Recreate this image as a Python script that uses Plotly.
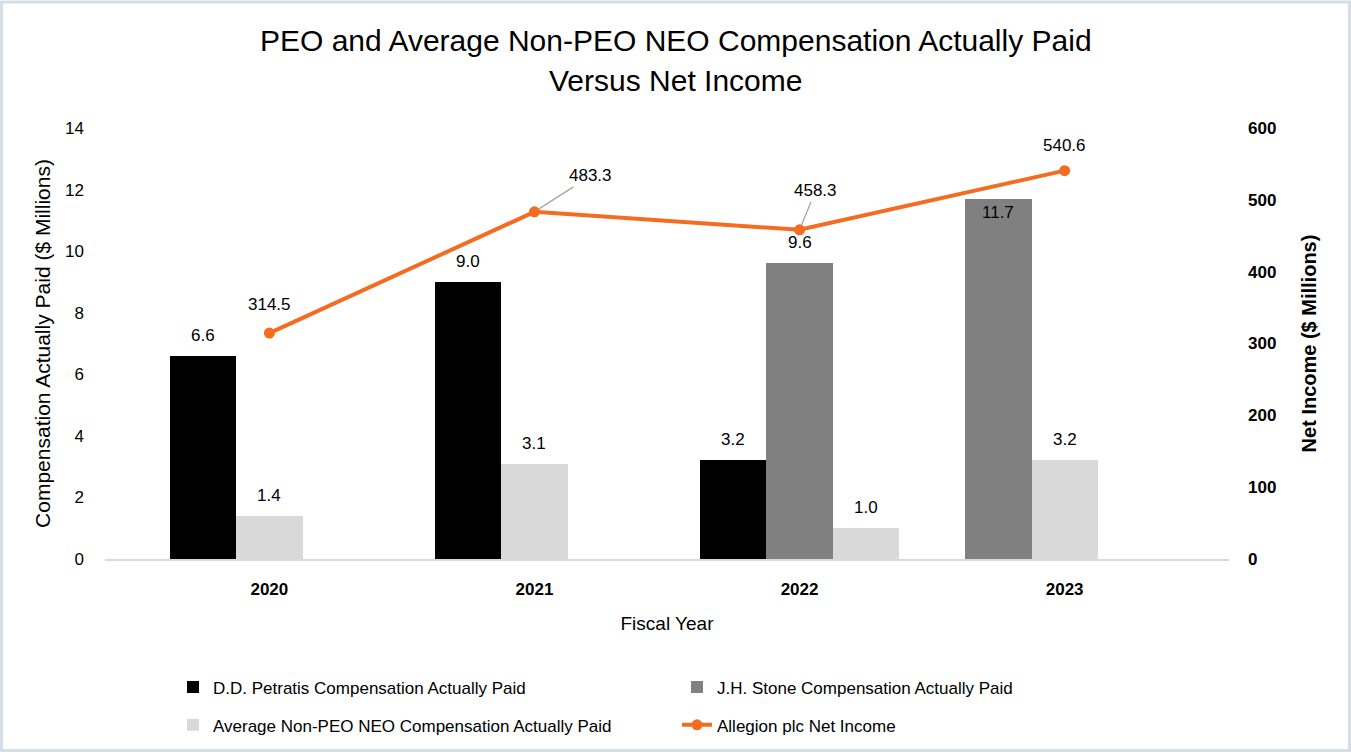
import plotly.graph_objects as go

years = ["2020", "2021", "2022", "2023"]
petratis = [6.6, 9.0, 3.2, None]
stone = [None, None, 9.6, 11.7]
avg_neo = [1.4, 3.1, 1.0, 3.2]
net_income = [314.5, 483.3, 458.3, 540.6]

title_lines = ["PEO and Average Non-PEO NEO Compensation Actually Paid", "Versus Net Income"]

series = [
    ("D.D. Petratis Compensation Actually Paid", petratis, "#000000", "legend"),
    ("J.H. Stone Compensation Actually Paid", stone, "#808080", "legend"),
    ("Average Non-PEO NEO Compensation Actually Paid", avg_neo, "#D9D9D9", "legend2"),
]

BAR_W = 0.25
FONT = "Liberation Sans, Arial, Helvetica, sans-serif"
# labels drawn inside the top of their bar (series index, year index)
inside_labels = {(1, 3)}

# slot of each present bar within its year: k-th present bar -> offset
offsets = {name: [None] * len(years) for name, *_ in series}
for j in range(len(years)):
    k = 0
    for name, vals, _, _ in series:
        if vals[j] is not None:
            offsets[name][j] = -0.375 + BAR_W * k
            k += 1

fig = go.Figure()
annotations = []
for si, (name, vals, color, lg) in enumerate(series):
    offs = [o if o is not None else 0 for o in offsets[name]]
    fig.add_trace(go.Bar(
        x=years, y=vals, name=name, marker=dict(color=color, line=dict(width=0)),
        width=[BAR_W] * len(years), offset=offs, legend=lg, yaxis="y",
    ))
    for j, v in enumerate(vals):
        if v is None:
            continue
        inside = (si, j) in inside_labels
        annotations.append(dict(
            x=j + offsets[name][j] + BAR_W / 2, y=v, xref="x", yref="y",
            text=f"{v:.1f}", showarrow=False,
            yanchor="top" if inside else "bottom", yshift=-2 if inside else 9,
            font=dict(family=FONT, size=17, color="#000000"),
        ))

fig.add_trace(go.Scatter(
    x=years, y=net_income, name="Allegion plc Net Income", mode="lines+markers",
    line=dict(color="#F36C21", width=4), marker=dict(size=11, color="#F36C21"),
    yaxis="y2", legend="legend2",
))

label_style = [
    dict(showarrow=False, yshift=17, yanchor="bottom"),
    dict(showarrow=True, ax=56, ay=-36),
    dict(showarrow=True, ax=16, ay=-39),
    dict(showarrow=False, yshift=14, yanchor="bottom"),
]
for j, v in enumerate(net_income):
    a = dict(x=j, y=v, xref="x", yref="y2", text=f"{v:.1f}",
             font=dict(family=FONT, size=17, color="#000000"),
             arrowhead=0, arrowcolor="#A6A6A6", arrowwidth=1.3, standoff=5)
    a.update(label_style[j])
    annotations.append(a)

W, H = 1351, 755
ML, MR, MT, MB = 105, 122, 128, 194
pw, ph = W - ML - MR, H - MT - MB

for i, (line, ypx) in enumerate(zip(title_lines, [40, 80])):
    annotations.append(dict(
        text=line, xref="paper", yref="paper", x=(W / 2 - ML) / pw,
        y=(H - MB - ypx) / ph, xanchor="center", yanchor="middle",
        showarrow=False, font=dict(family=FONT, size=30, color="#000000"),
    ))

fig.update_layout(
    width=W, height=H,
    margin=dict(l=ML, r=MR, t=MT, b=MB),
    paper_bgcolor="#FFFFFF", plot_bgcolor="#FFFFFF",
    font=dict(family=FONT, size=16, color="#000000"),
    barmode="overlay",
    bargap=0,
    xaxis=dict(
        type="category", range=[-0.62, 3.62], showgrid=False, zeroline=False,
        showline=True, linecolor="#D9D9D9", linewidth=2, ticks="",
        tickfont=dict(family=FONT, size=17, color="#000000", weight="bold"),
        ticklabelstandoff=14,
        title=dict(text="Fiscal Year", font=dict(family=FONT, size=19), standoff=18),
    ),
    yaxis=dict(
        range=[0, 14], dtick=2, showgrid=False, zeroline=False, showline=False,
        ticks="", tickfont=dict(family=FONT, size=17), ticklabelstandoff=20,
        title=dict(text="Compensation Actually Paid ($ Millions)",
                   font=dict(family=FONT, size=21), standoff=8),
    ),
    yaxis2=dict(
        range=[0, 600], dtick=100, overlaying="y", side="right", showgrid=False,
        zeroline=False, showline=False, ticks="",
        tickfont=dict(family=FONT, size=17, weight="bold"), ticklabelstandoff=18,
        title=dict(text="Net Income ($ Millions)",
                   font=dict(family=FONT, size=20, weight="bold"), standoff=26),
    ),
    legend=dict(
        orientation="h", x=(173 - ML) / pw, xanchor="left",
        y=(H - MB - 672) / ph, yanchor="top", entrywidth=459,
        font=dict(family=FONT, size=17), bgcolor="rgba(0,0,0,0)",
        traceorder="normal",
    ),
    legend2=dict(
        orientation="h", x=(173 - ML) / pw, xanchor="left",
        y=(H - MB - 710) / ph, yanchor="top", entrywidth=459,
        font=dict(family=FONT, size=17), bgcolor="rgba(0,0,0,0)",
        traceorder="normal",
    ),
    annotations=annotations,
    shapes=[dict(
        type="rect", xref="paper", yref="paper",
        x0=-(ML - 1.5) / pw, x1=1 + (MR - 1.5) / pw,
        y0=-(MB - 1.5) / ph, y1=1 + (MT - 1.5) / ph,
        line=dict(color="#D3DEE6", width=3), layer="below",
    )],
    showlegend=True,
)

fig.write_html("out.html", config={"displayModeBar": False},
               post_script="document.body.style.margin='0';")
